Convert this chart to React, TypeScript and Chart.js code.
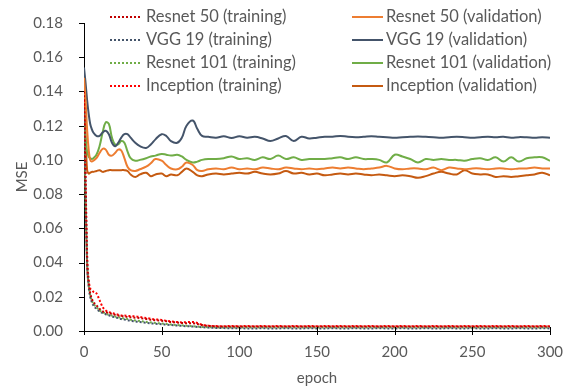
import React, { useEffect, useRef } from "react";
import { Chart, registerables } from "chart.js";

Chart.register(...registerables);

const FONT = "Lato, 'Open Sans', sans-serif";
const FS = 15;
const LEGEND_FS = 16.5;
const TEXT = "#595959";

// sampled epochs
const epochs = [
  0, 1, 2, 3, 4, 5, 6,
  8, 10, 12, 14, 16, 18, 20, 22, 24, 26, 28, 30,
  33, 36, 40, 43, 46, 50, 53, 56, 60, 63, 66, 70, 73, 76, 80,
  85, 90, 95, 100, 105, 110, 115, 120, 125, 130,
  135, 140, 145, 150, 155, 160, 165, 170, 175, 180,
  185, 190, 195, 200, 205, 210, 215, 220, 225, 230,
  235, 240, 245, 250, 255, 260, 265, 270, 275, 280,
  285, 290, 295, 300,
];

const resnet50Train = [
  0.14, 0.085, 0.04, 0.028, 0.022, 0.019, 0.017,
  0.015, 0.013, 0.0115, 0.011, 0.0105, 0.01, 0.0095, 0.009, 0.0088, 0.0085, 0.0082, 0.008,
  0.0078, 0.0075, 0.007, 0.0066, 0.0063, 0.006, 0.0057, 0.0053, 0.005, 0.0047, 0.0045, 0.0045, 0.0041, 0.0035, 0.003,
  0.0027, 0.0026, 0.0027, 0.0026, 0.0026, 0.0027, 0.0026, 0.0026, 0.0027, 0.0026,
  0.0026, 0.0027, 0.0026, 0.0026, 0.0027, 0.0026, 0.0026, 0.0027, 0.0026, 0.0026,
  0.0027, 0.0026, 0.0026, 0.0027, 0.0026, 0.0026, 0.0027, 0.0026, 0.0026, 0.0027,
  0.0026, 0.0026, 0.0027, 0.0026, 0.0026, 0.0027, 0.0026, 0.0026, 0.0027, 0.0026,
  0.0026, 0.0027, 0.0026, 0.0026,
];

const vgg19Train = [
  0.13, 0.08, 0.04, 0.026, 0.02, 0.017, 0.015,
  0.013, 0.0115, 0.0105, 0.0098, 0.0092, 0.0085, 0.008, 0.0075, 0.007, 0.0067, 0.0063, 0.006,
  0.0056, 0.0052, 0.0048, 0.0045, 0.0042, 0.004, 0.0037, 0.0035, 0.0032, 0.003, 0.0028, 0.0026, 0.0024, 0.0022, 0.002,
  0.0018, 0.0017, 0.0016, 0.0016, 0.0015, 0.0015, 0.0016, 0.0015, 0.0015, 0.0016,
  0.0015, 0.0015, 0.0016, 0.0015, 0.0015, 0.0016, 0.0015, 0.0015, 0.0016, 0.0015,
  0.0015, 0.0016, 0.0015, 0.0015, 0.0016, 0.0015, 0.0015, 0.0016, 0.0015, 0.0015,
  0.0016, 0.0015, 0.0015, 0.0016, 0.0015, 0.0015, 0.0016, 0.0015, 0.0015, 0.0016,
  0.0015, 0.0015, 0.0016, 0.0015,
];

const resnet101Train = [
  0.12, 0.075, 0.04, 0.027, 0.021, 0.018, 0.016,
  0.014, 0.012, 0.011, 0.0102, 0.0095, 0.009, 0.0085, 0.008, 0.0077, 0.0073, 0.007, 0.0066,
  0.0062, 0.0058, 0.0053, 0.005, 0.0047, 0.0044, 0.0041, 0.0038, 0.0035, 0.0033, 0.003, 0.0028, 0.0026, 0.0024, 0.0022,
  0.0021, 0.002, 0.002, 0.0021, 0.002, 0.002, 0.0021, 0.002, 0.002, 0.0021,
  0.002, 0.002, 0.0021, 0.002, 0.002, 0.0021, 0.002, 0.002, 0.0021, 0.002,
  0.002, 0.0021, 0.002, 0.002, 0.0021, 0.002, 0.002, 0.0021, 0.002, 0.002,
  0.0021, 0.002, 0.002, 0.0021, 0.002, 0.002, 0.0021, 0.002, 0.002, 0.0021,
  0.002, 0.002, 0.0021, 0.002,
];

const inceptionTrain = [
  0.135, 0.09, 0.045, 0.03, 0.025, 0.024, 0.023,
  0.022, 0.018, 0.014, 0.012, 0.011, 0.0105, 0.01, 0.0095, 0.009, 0.009, 0.0088, 0.0087,
  0.0086, 0.0082, 0.0076, 0.0072, 0.0068, 0.0065, 0.006, 0.0056, 0.0052, 0.005, 0.0052, 0.0053, 0.0047, 0.0037, 0.0031,
  0.0029, 0.0028, 0.0029, 0.0028, 0.0029, 0.0028, 0.0029, 0.0028, 0.0029, 0.0028,
  0.0029, 0.0028, 0.0029, 0.0028, 0.0029, 0.0028, 0.0029, 0.0028, 0.0029, 0.0028,
  0.0029, 0.0028, 0.0029, 0.0028, 0.0029, 0.0028, 0.0029, 0.0028, 0.0029, 0.0028,
  0.0029, 0.0028, 0.0029, 0.0028, 0.0029, 0.0028, 0.0029, 0.0028, 0.0029, 0.0028,
  0.0029, 0.0028, 0.0029, 0.0028,
];

const resnet50Val = [
  0.148, 0.135, 0.118, 0.106, 0.1, 0.099, 0.0995,
  0.101, 0.104, 0.1065, 0.106, 0.103, 0.1025, 0.104, 0.106, 0.1055, 0.101, 0.096, 0.094,
  0.0935, 0.0945, 0.096, 0.098, 0.1005, 0.0995, 0.097, 0.095, 0.0945, 0.096, 0.0985, 0.097, 0.094, 0.0935, 0.0945,
  0.095, 0.0945, 0.0955, 0.0945, 0.095, 0.0945, 0.0955, 0.095, 0.0945, 0.0955,
  0.095, 0.0945, 0.095, 0.0945, 0.095, 0.0955, 0.095, 0.0955, 0.095, 0.0945,
  0.095, 0.0955, 0.0965, 0.095, 0.0945, 0.095, 0.095, 0.0945, 0.0955, 0.094,
  0.0955, 0.095, 0.0945, 0.095, 0.095, 0.0945, 0.095, 0.095, 0.0945, 0.095,
  0.095, 0.0955, 0.095, 0.095,
];

const vgg19Val = [
  0.154, 0.145, 0.135, 0.127, 0.121, 0.118, 0.116,
  0.114, 0.114, 0.116, 0.117, 0.115, 0.11, 0.108, 0.11, 0.113, 0.115, 0.115, 0.113,
  0.11, 0.108, 0.107, 0.109, 0.112, 0.115, 0.114, 0.111, 0.11, 0.113, 0.12, 0.123, 0.118, 0.114, 0.1135,
  0.113, 0.1138, 0.1128, 0.1138, 0.113, 0.1135, 0.1125, 0.111, 0.1125, 0.114,
  0.111, 0.1135, 0.1125, 0.113, 0.1135, 0.1135, 0.114, 0.1135, 0.1133, 0.1135,
  0.1138, 0.1135, 0.1133, 0.113, 0.1133, 0.1135, 0.1137, 0.1135, 0.1133, 0.113,
  0.1133, 0.1135, 0.1133, 0.113, 0.1133, 0.1135, 0.1133, 0.1135, 0.113, 0.1133,
  0.1132, 0.113, 0.1132, 0.113,
];

const resnet101Val = [
  0.12, 0.112, 0.105, 0.102, 0.101, 0.1005, 0.101,
  0.103, 0.108, 0.116, 0.122, 0.121, 0.113, 0.109, 0.109, 0.111, 0.11, 0.105, 0.101,
  0.0995, 0.1, 0.101, 0.102, 0.1025, 0.1035, 0.103, 0.1025, 0.103, 0.102, 0.1, 0.0985, 0.099, 0.1, 0.1005,
  0.1005, 0.101, 0.102, 0.1005, 0.101, 0.1, 0.1015, 0.1005, 0.1025, 0.1005,
  0.1015, 0.1, 0.1005, 0.1005, 0.1005, 0.101, 0.1015, 0.1005, 0.1015, 0.1005,
  0.1005, 0.1, 0.0985, 0.103, 0.102, 0.1005, 0.0985, 0.1005, 0.1, 0.1005,
  0.1, 0.1, 0.0995, 0.1005, 0.101, 0.1, 0.1015, 0.099, 0.1015, 0.099,
  0.101, 0.1015, 0.1015, 0.0995,
];

const inceptionVal = [
  0.14, 0.115, 0.094, 0.092, 0.0925, 0.093, 0.093,
  0.0935, 0.094, 0.093, 0.0935, 0.094, 0.094, 0.094, 0.094, 0.094, 0.094, 0.0935, 0.0915,
  0.09, 0.0915, 0.0925, 0.0905, 0.0915, 0.092, 0.0905, 0.0915, 0.091, 0.093, 0.095, 0.093, 0.091, 0.0905, 0.0915,
  0.092, 0.0915, 0.092, 0.0925, 0.092, 0.093, 0.092, 0.0915, 0.092, 0.0935,
  0.092, 0.0925, 0.0915, 0.092, 0.091, 0.0915, 0.092, 0.0915, 0.092, 0.0915,
  0.091, 0.0915, 0.091, 0.0905, 0.091, 0.0905, 0.0895, 0.0905, 0.092, 0.093,
  0.092, 0.0915, 0.094, 0.092, 0.0915, 0.0915, 0.09, 0.0905, 0.09, 0.0905,
  0.091, 0.0915, 0.0925, 0.091,
];

const yTicks = [0, 0.02, 0.04, 0.06, 0.08, 0.1, 0.12, 0.14, 0.16, 0.18];
const xTicks = [0, 50, 100, 150, 200, 250, 300];

const seriesDefs = [
  { label: "Resnet 50 (training)", data: resnet50Train, color: "#C00000", dotted: true },
  { label: "VGG 19 (training)", data: vgg19Train, color: "#44546A", dotted: true },
  { label: "Resnet 101 (training)", data: resnet101Train, color: "#70AD47", dotted: true },
  { label: "Inception (training)", data: inceptionTrain, color: "#FF0000", dotted: true },
  { label: "Resnet 50 (validation)", data: resnet50Val, color: "#ED7D31", dotted: false },
  { label: "VGG 19 (validation)", data: vgg19Val, color: "#44546A", dotted: false },
  { label: "Resnet 101 (validation)", data: resnet101Val, color: "#70AD47", dotted: false },
  { label: "Inception (validation)", data: inceptionVal, color: "#C55A11", dotted: false },
];

const tickMarks = {
  id: "tickMarks",
  afterDraw(chart: any) {
    const { ctx, scales } = chart;
    const xs = scales.x;
    const ys = scales.y;
    ctx.save();
    ctx.strokeStyle = "#000";
    ctx.lineWidth = 1;
    ctx.beginPath();
    ys.ticks.forEach((t: any) => {
      const py = Math.round(ys.getPixelForValue(t.value)) + 0.5;
      ctx.moveTo(xs.left - 5, py);
      ctx.lineTo(xs.left, py);
    });
    xs.ticks.forEach((t: any) => {
      const px = Math.round(xs.getPixelForValue(t.value)) + 0.5;
      ctx.moveTo(px, ys.bottom - 4);
      ctx.lineTo(px, ys.bottom + 4);
    });
    ctx.stroke();
    ctx.restore();
  },
};

const twoColLegend = {
  id: "twoColLegend",
  afterDraw(chart: any) {
    const { ctx } = chart;
    const ds = chart.data.datasets;
    ctx.save();
    ctx.font = `${LEGEND_FS}px ${FONT}`;
    ctx.textBaseline = "middle";
    ctx.textAlign = "left";
    for (let r = 0; r < 4; r++) {
      const y = 17 + r * 23;
      const cols: [any, number, number, number][] = [
        [ds[r], 110, 142, 146],
        [ds[r + 4], 352, 383, 386],
      ];
      cols.forEach(([d, x1, x2, tx]) => {
        ctx.strokeStyle = d.borderColor;
        ctx.lineWidth = 2;
        ctx.setLineDash(d.borderDash || []);
        ctx.beginPath();
        ctx.moveTo(x1, y);
        ctx.lineTo(x2, y);
        ctx.stroke();
        ctx.setLineDash([]);
        ctx.fillStyle = TEXT;
        ctx.fillText(d.label, tx, y);
      });
    }
    ctx.restore();
  },
};

export default function App() {
  const ref = useRef<HTMLCanvasElement>(null);
  useEffect(() => {
    document.body.style.margin = "0";
    if (!ref.current) return;
    const chart = new Chart(ref.current, {
      type: "line",
      data: {
        datasets: seriesDefs.map((s) => ({
          label: s.label,
          data: epochs.map((e, i) => ({ x: e, y: s.data[i] })),
          borderColor: s.color,
          backgroundColor: s.color,
          borderWidth: 2,
          borderDash: s.dotted ? [2, 2] : [],
          pointRadius: 0,
          tension: s.dotted ? 0 : 0.4,
          cubicInterpolationMode: s.dotted ? "monotone" : "default",
          fill: false,
        })),
      },
      options: {
        animation: false,
        responsive: true,
        maintainAspectRatio: false,
        layout: { padding: { top: 23, right: 14, left: 0, bottom: 0 } },
        plugins: { legend: { display: false }, tooltip: { enabled: false } },
        scales: {
          x: {
            type: "linear",
            min: 0,
            max: 300,
            afterBuildTicks: (s: any) => {
              s.ticks = xTicks.map((v) => ({ value: v }));
            },
            afterFit: (s: any) => {
              s.height = 59;
              s.paddingLeft = 0;
              s.paddingRight = 0;
            },
            grid: { display: false, drawTicks: false, tickLength: 0 },
            border: { display: true, color: "#000", width: 1 },
            ticks: { color: TEXT, font: { family: FONT, size: FS }, padding: 12, maxRotation: 0 },
            title: {
              display: true,
              text: "epoch",
              color: TEXT,
              font: { family: FONT, size: FS },
              padding: { top: 0, bottom: 3 },
            },
          },
          y: {
            type: "linear",
            min: 0,
            max: 0.18,
            afterBuildTicks: (s: any) => {
              s.ticks = yTicks.map((v) => ({ value: v }));
            },
            afterFit: (s: any) => {
              s.width = 84;
              s.paddingTop = 0;
              s.paddingBottom = 0;
            },
            grid: { display: false, drawTicks: false, tickLength: 0 },
            border: { display: true, color: "#000", width: 1 },
            ticks: {
              color: TEXT,
              font: { family: FONT, size: FS },
              padding: 21,
              callback: (v: any) => Number(v).toFixed(2),
            },
            title: {
              display: true,
              text: "MSE",
              color: TEXT,
              font: { family: FONT, size: FS },
              padding: { top: 13, bottom: 0 },
            },
          },
        },
      },
      plugins: [tickMarks, twoColLegend],
    });
    return () => chart.destroy();
  }, []);
  return (
    <div style={{ position: "relative", width: 564, height: 390 }}>
      <canvas ref={ref} />
    </div>
  );
}
